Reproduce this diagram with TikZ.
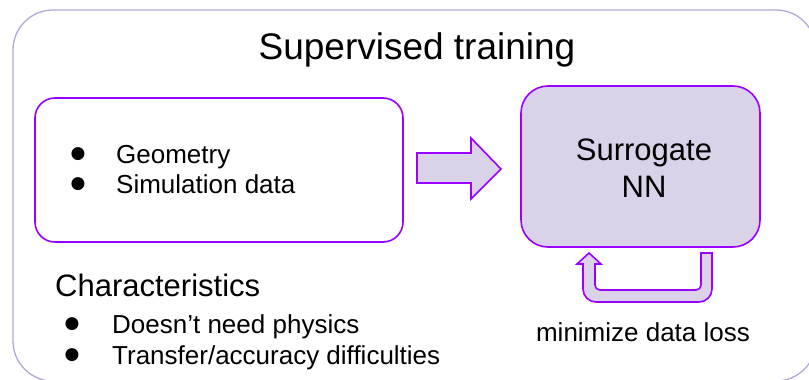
\documentclass[tikz,border=0pt]{standalone}
\usepackage{fontspec}
\setmainfont{Liberation Sans}
\newfontfamily\symfont{DejaVu Sans}
\definecolor{frameline}{HTML}{B4A7D6}
\definecolor{violet}{HTML}{9900FF}
\definecolor{lavender}{HTML}{D9D2E9}
\tikzset{
  panel/.style={draw=violet, line width=1.6pt, rounded corners=20pt},
  flow/.style={draw=violet, line width=1.6pt, fill=lavender, line join=miter},
  txt/.style={inner sep=0pt, anchor=base west, font=\fontsize{26}{30}\selectfont},
  dot/.style={inner sep=0pt, anchor=center, font=\symfont\fontsize{17}{20}\selectfont},
}
\begin{document}
\begin{tikzpicture}[x=1pt, y=-1pt]
  \useasboundingbox (0,0) rectangle (809,380);
  % outer frame
  \draw[frameline, line width=1.3pt, rounded corners=40pt] (13,10) rectangle (816,381);
  \node[inner sep=0pt, anchor=base, font=\fontsize{37}{44}\selectfont] (title) at (417,59) {Supervised training};

  % input box
  \draw[panel] (35,98) rectangle (403,242);
  \node (input) at (219,170) {};
  \node[dot] (b1) at (78,154) {●};
  \node[txt] (geo) at (116,163) {Geometry};
  \node[dot] (b2) at (78,184) {●};
  \node[txt] (sim) at (116,193) {Simulation data};

  % surrogate network box
  \draw[panel, fill=lavender, rounded corners=27pt] (521,86) rectangle (760,247);
  \node (nn) at (640,167) {};
  \node[inner sep=0pt, anchor=base, font=\fontsize{31}{36}\selectfont] (sur) at (644,160) {Surrogate};
  \node[inner sep=0pt, anchor=base, font=\fontsize{31}{36}\selectfont] (nnlbl) at (644,197) {NN};

  % block arrow from the input to the network
  \draw[flow] (417,153) -- (471,153) -- (471,138) -- (501,169) -- (471,199) -- (471,183) -- (417,183) -- cycle;

  % feedback loop arrow below the network
  \draw[flow] (701,253) -- (712,253) [rounded corners=13pt] -- (712,302) -- (583,302)
     [sharp corners] -- (583,264) -- (577,264) -- (589,253) -- (601,264) -- (595,264)
     [rounded corners=5pt] -- (595,290) -- (701,290) [sharp corners] -- (701,253) -- cycle;
  \node[inner sep=0pt, anchor=base, font=\fontsize{26}{30}\selectfont] (loss) at (643,341) {minimize data loss};

  % characteristics
  \node[inner sep=0pt, anchor=base west, font=\fontsize{31}{36}\selectfont] (char) at (55,296) {Characteristics};
  \node[dot] (c1) at (72,324) {●};
  \node[txt] (phys) at (112,333) {Doesn’t need physics};
  \node[dot] (c2) at (72,355) {●};
  \node[txt] (acc) at (112,364) {Transfer/accuracy difficulties};
\end{tikzpicture}
\end{document}
